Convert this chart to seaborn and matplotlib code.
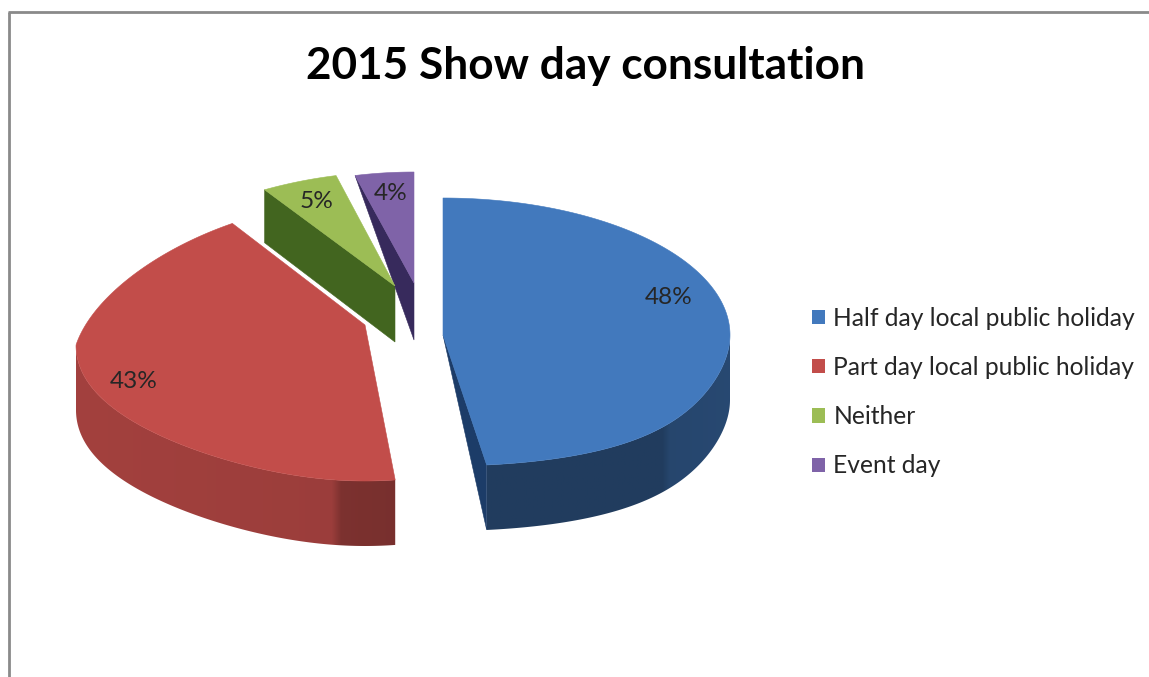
import numpy as np
import seaborn as sns
import matplotlib
matplotlib.use("Agg")
import matplotlib.pyplot as plt
from matplotlib.lines import Line2D
from matplotlib.patches import Patch, Polygon

# Survey results
categories = ["Half day local public holiday", "Part day local public holiday", "Neither", "Event day"]
shares = [48, 43, 5, 4]
title = "2015 Show day consultation"

slice_hex = ["#4279bd", "#c24d4a", "#9cbd55", "#7f63a8"]
cut_hex = ["#1c3c68", "#7c2a28", "#42651f", "#372a5c"]

# Exploded-pie projection for each slice:
# apex x, apex y, rim centre y, x radius, upper y radius, lower y radius, upper taper, lower taper
projection = [
    (443, 335, 335, 287, 137, 131, 0.00, 0.22),
    (365, 325, 345, 289, 144, 136, 0.17, -0.17),
    (395, 286, 286, 287, 114, 114, 0.18, 0.00),
    (414, 283, 283, 287, 111, 111, 0.18, 0.00),
]
rim_depth = [65, 65, 54, 57]
# Cut face of each slice: which edge, drop at the rim, drop at the apex
cut_faces = [("end", 65, 0), (None, 0, 0), ("start", 53, 56), ("start", 0, 57)]
# Brightness of the outer wall from its left end to its right end
wall_stops = [([0.0, 0.72, 0.75, 1.0], [0.50, 0.50, 0.58, 0.60]),
              ([0.0, 0.80, 0.83, 1.0], [0.84, 0.80, 0.64, 0.62]),
              None, None]
label_pos = [(669, 297), (134, 382), (317, 201), (391, 194)]

sns.set_theme(style="white")
plt.rcParams["font.family"] = ["Lato", "DejaVu Sans"]
palette = sns.color_palette(slice_hex)

fig = plt.figure(figsize=(11.49, 6.77), dpi=100, facecolor="white")
ax = fig.add_axes([0, 0, 1, 1])


def project(i, theta):
    cx, _, cy, rx, ry_up, ry_down, t_up, t_down = projection[i]
    u, v = np.cos(theta), np.sin(theta)
    ry = np.where(v >= 0, ry_up, ry_down)
    taper = np.where(v >= 0, 1 - t_up * v, 1 - t_down * v ** 3)
    return cx + rx * u * taper, cy - ry * v


# Slice edges run clockwise from twelve o'clock
fractions = np.array(shares) / sum(shares)
ends = np.pi / 2 - 2 * np.pi * np.cumsum(fractions)
starts = np.concatenate([[np.pi / 2], ends[:-1]])

for i in [2, 3, 1, 0]:
    color = palette[i]
    arc = np.linspace(starts[i], ends[i], 300)
    x, y = project(i, arc)
    apex = projection[i][:2]

    # Outer wall on the near side, filled with a horizontal brightness ramp
    if wall_stops[i] is not None:
        near = np.sin(arc) <= 0.0
        xs, ys = x[near], y[near]
        wall = Polygon(np.column_stack([np.r_[xs, xs[::-1]],
                                        np.r_[ys, ys[::-1] + rim_depth[i]]]),
                       closed=True, fc="none", ec="none")
        ax.add_patch(wall)
        left, right = xs.min(), xs.max()
        ramp = np.interp(np.linspace(0, 1, 400), *wall_stops[i])
        rgb = np.clip(np.outer(ramp, color), 0, 1)[np.newaxis, :, :]
        img = ax.imshow(rgb, extent=(left, right, ys.max() + rim_depth[i], ys.min()),
                        aspect="auto", interpolation="bilinear", zorder=1 + i * 0.01)
        img.set_clip_path(wall)

    # Cut face left visible by the explosion
    edge, rim_drop, apex_drop = cut_faces[i]
    if edge is not None:
        rx_, ry_ = (x[0], y[0]) if edge == "start" else (x[-1], y[-1])
        face = [(rx_, ry_), apex, (apex[0], apex[1] + apex_drop), (rx_, ry_ + rim_drop)]
        ax.add_patch(Polygon(face, closed=True, lw=0.4, fc=cut_hex[i], ec=cut_hex[i], zorder=2))

    # Top surface
    ax.add_patch(Polygon(np.vstack([apex, np.column_stack([x, y])]), closed=True,
                         fc=color, ec=color, lw=0.4, zorder=3))

    ax.text(*label_pos[i], f"{shares[i]}%", ha="center", va="center",
            fontsize=17.6, color="#262626", zorder=5)

ax.set_xlim(0, 1149)
ax.set_ylim(677, 0)
ax.axis("off")

ax.text(585, 66, title, ha="center", va="center", fontsize=31.8, fontweight="bold", color="black")

handles = [Patch(facecolor=c, edgecolor="none") for c in palette]
ax.legend(handles, categories, loc="center left", bbox_to_anchor=(790 / 1149, 1 - 392 / 677),
          frameon=False, fontsize=17.7, handlelength=0.53, handleheight=0.53,
          handletextpad=0.33, labelspacing=1.07, labelcolor="#262626")

# Chart area border, open towards the right and bottom
frame = dict(color="#8a8a8a", lw=2, solid_capstyle="butt")
ax.add_line(Line2D([9, 9], [12, 677], **frame))
ax.add_line(Line2D([8, 1149], [12, 12], **frame))

fig.savefig("out.png", dpi=100)
